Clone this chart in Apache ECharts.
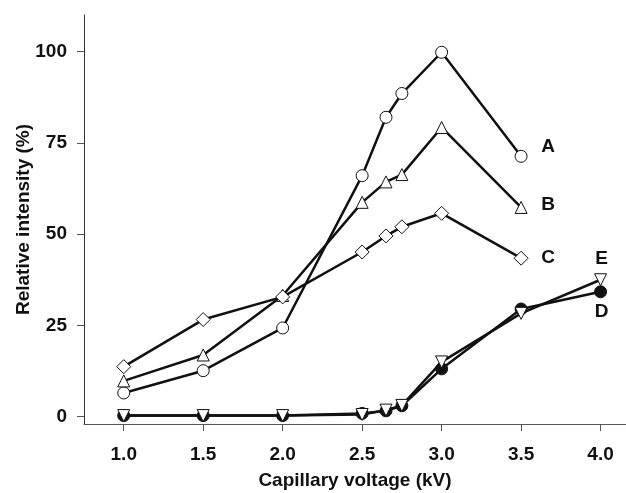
<!DOCTYPE html>
<html>
<head>
<meta charset="utf-8">
<script src="https://cdn.jsdelivr.net/npm/echarts@6/dist/echarts.min.js"></script>
<style>
  html, body { margin: 0; padding: 0; background: #fff; }
  #chart { width: 626px; height: 493px; }
</style>
</head>
<body>
<div id="chart"></div>
<script>
// capillary voltage (kV)
const voltsABC = [1.0, 1.5, 2.0, 2.5, 2.65, 2.75, 3.0, 3.5];
const voltsDE = [1.0, 1.5, 2.0, 2.5, 2.65, 2.75, 3.0, 3.5, 4.0];

// relative intensity (%)
const seriesA = [6.5, 12.6, 24.3, 66.0, 82.0, 88.5, 99.8, 71.3];
const seriesB = [9.8, 16.9, 33.2, 58.7, 64.3, 66.3, 79.2, 57.3];
const seriesC = [13.7, 26.6, 32.8, 45.1, 49.5, 52.0, 55.7, 43.4];
const seriesD = [0.3, 0.3, 0.3, 0.9, 1.6, 3.0, 13.1, 29.5, 34.2];
const seriesE = [0.3, 0.3, 0.3, 0.6, 1.8, 3.1, 15.0, 28.3, 37.5];

const xTicks = [1.0, 1.5, 2.0, 2.5, 3.0, 3.5, 4.0];
const yTicks = [0, 25, 50, 75, 100];

const FONT = "'Liberation Sans', Arial, sans-serif";

// put the letter tag on the last point of each curve
function points(xs, ys, tag, offset) {
  return ys.map((y, i) => {
    if (i < ys.length - 1) return [xs[i], y];
    return {
      value: [xs[i], y],
      label: {
        show: true,
        formatter: tag,
        position: "inside",
        offset: offset,
        color: "#111",
        fontFamily: FONT,
        fontWeight: "bold",
        fontSize: 19,
      },
    };
  });
}

function makeSeries(name, data, symbol, filled, rotate) {
  return {
    name: name,
    type: "line",
    data: data,
    symbol: symbol,
    symbolSize: symbol === "diamond" ? 14 : 12,
    symbolRotate: rotate || 0,
    showAllSymbol: true,
    lineStyle: { color: "#111", width: 2.5 },
    itemStyle: {
      color: filled ? "#111" : "#fff",
      borderColor: "#111",
      borderWidth: 1,
    },
    emphasis: { disabled: true },
    z: 3,
  };
}

const chart = echarts.init(document.getElementById("chart"));

const option = {
  animation: false,
  grid: {
    left: 84, right: 0, top: 15, bottom: 69,
    containLabel: false,
    outerBoundsMode: "none",
  },
  xAxis: {
    type: "value",
    min: 0.75,
    max: 4.16,
    name: "Capillary voltage (kV)",
    nameLocation: "middle",
    nameGap: 47,
    nameTextStyle: { fontFamily: FONT, fontWeight: "bold", fontSize: 19, color: "#111" },
    splitLine: { show: false },
    axisLine: { show: true, onZero: false, lineStyle: { color: "#555", width: 1 } },
    axisTick: { show: true, length: 7, customValues: xTicks, lineStyle: { color: "#555" } },
    axisLabel: {
      customValues: xTicks,
      margin: 21,
      fontFamily: FONT,
      fontWeight: "bold",
      fontSize: 19,
      color: "#111",
      formatter: (v) => v.toFixed(1),
    },
  },
  yAxis: {
    type: "value",
    min: -2,
    max: 110,
    name: "Relative intensity (%)",
    nameLocation: "middle",
    nameGap: 51,
    nameMoveOverlap: false,
    nameTextStyle: { fontFamily: FONT, fontWeight: "bold", fontSize: 19, color: "#111" },
    splitLine: { show: false },
    axisLine: { show: true, onZero: false, lineStyle: { color: "#333", width: 1 } },
    axisTick: { show: true, length: 7, customValues: yTicks, lineStyle: { color: "#555" } },
    axisLabel: {
      customValues: yTicks,
      margin: 17,
      fontFamily: FONT,
      fontWeight: "bold",
      fontSize: 19,
      color: "#111",
    },
  },
  series: [
    makeSeries("A", points(voltsABC, seriesA, "A", [27, -10]), "circle", false),
    makeSeries("B", points(voltsABC, seriesB, "B", [27, -3]), "triangle", false),
    makeSeries("C", points(voltsABC, seriesC, "C", [27, 0]), "diamond", false),
    makeSeries("D", points(voltsDE, seriesD, "D", [1, 20]), "circle", true),
    makeSeries("E", points(voltsDE, seriesE, "E", [1, -21]), "triangle", false, 180),
  ],
};

chart.setOption(option);
</script>
</body>
</html>
